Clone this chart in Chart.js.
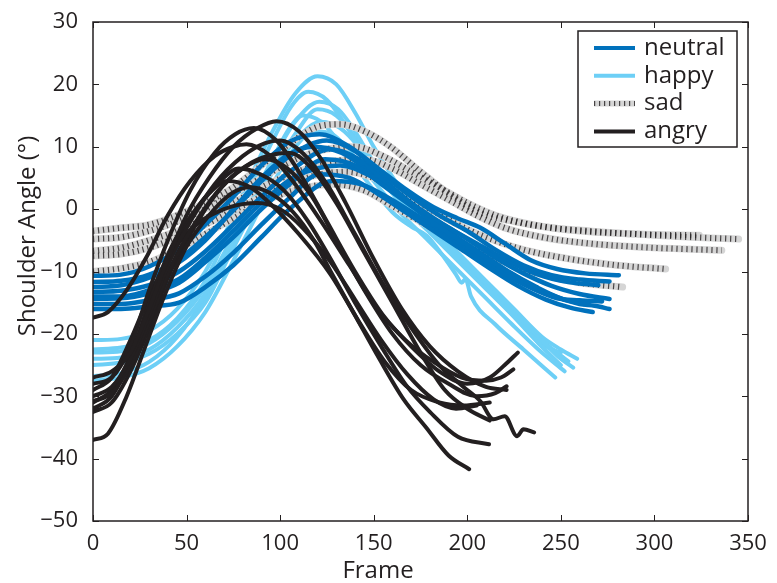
<!DOCTYPE html>
<html>
<head>
<meta charset="utf-8">
<script src="https://cdn.jsdelivr.net/npm/chart.js@4.4.1/dist/chart.umd.min.js"></script>
<style>
html, body { margin: 0; padding: 0; background: #fff; }
#wrap { width: 777px; height: 583px; }
</style>
</head>
<body>
<div id="wrap"><canvas id="myChart"></canvas></div>
<script>
var emotions = ['neutral', 'happy', 'sad', 'angry'];
var colors = { neutral: '#0071bc', happy: '#6dcff6', sad: '#d5d5d5', sadTick: 'rgba(35,31,32,0.8)', angry: '#231f20' };
var xMin = 0, xMax = 350, xStep = 50;
var yMin = -50, yMax = 30, yStep = 10;

// [frame, angle] pairs
var neutral1 = [[0,-10.7],[15,-10.5],[30,-9.2],[46,-6.4],[60,-2.5],[75,2],[90,7],[105,10.8],[121,12],[137,10],[153,6.4],[168,3],[182,0.3],[195,-1.5],[207,-3],[220,-5.5],[234,-8.2],[248,-9.6],[263,-10.3],[281,-10.6]];
var neutral2 = [[0,-11.7],[15,-11.5],[30,-10.5],[46,-8],[60,-4.5],[75,-0.2],[90,4.5],[105,8.5],[125,11],[140,9.3],[155,5.5],[170,2],[185,-1],[200,-3.5],[215,-6.5],[230,-9],[245,-10.6],[260,-11.3],[276,-11.6]];
var neutral3 = [[0,-13.3],[15,-13.1],[30,-12.2],[46,-10],[60,-6.8],[75,-2.5],[90,2],[105,6],[127,9.6],[142,8],[156,4.5],[170,1],[185,-2],[200,-4.8],[215,-7.8],[230,-10.3],[245,-12.3],[260,-13.6],[276,-14.4]];
var neutral4 = [[0,-14.4],[15,-14.3],[30,-13.5],[46,-11.8],[60,-8.5],[75,-4.5],[90,0],[105,4],[124,8],[140,7],[155,3.8],[170,0.5],[185,-2.8],[200,-5.8],[215,-8.8],[230,-11.5],[245,-13.8],[260,-15.2],[268,-15.5],[276,-16]];
var neutral5 = [[0,-15.2],[15,-15.2],[30,-14.6],[46,-13.5],[60,-10.8],[75,-7],[90,-2.5],[105,1.8],[121,5.6],[137,5],[152,2.5],[167,-0.5],[182,-3.5],[197,-6.5],[212,-9.5],[227,-12.3],[242,-14.5],[255,-15.8],[267,-16.5]];
var neutral6 = [[0,-16],[15,-16],[30,-15.6],[46,-15],[60,-12.5],[75,-9],[90,-4.5],[105,0],[128,4.5],[143,4],[158,1.8],[173,-1],[188,-4],[203,-7],[218,-10],[233,-12.5],[248,-14.3],[260,-14.6],[272,-14.8]];
var neutral7 = [[0,-12.5],[15,-12.2],[30,-11],[46,-8.5],[60,-5],[75,0],[90,5],[104,8.7],[118,10],[133,9],[148,6],[163,2.5],[178,-0.8],[193,-3.5],[208,-6],[223,-8.5],[238,-10.5],[254,-11.7],[270,-12.2]];
var neutral8 = [[0,-14],[15,-14],[30,-13],[46,-11.2],[60,-7.8],[75,-3.5],[90,1],[108,5.2],[132,7],[147,5.5],[162,2.5],[177,-0.8],[192,-4],[207,-7],[222,-10],[237,-12.5],[250,-14.3],[262,-15.2]];

var happy1 = [[0,-21],[15,-20.8],[30,-19.5],[45,-16],[60,-10],[72,-3],[84,5],[96,12.5],[108,18.5],[120,21.3],[130,20],[140,15.5],[150,10],[165,3],[180,-2.5],[195,-7],[210,-11.5],[225,-16],[240,-20.5],[250,-22.5],[258.7,-24]];
var happy2 = [[0,-22.5],[15,-22.2],[30,-21],[45,-17.5],[60,-11.5],[72,-4],[84,3.5],[96,11],[106,16.5],[115,18.8],[125,17.5],[135,13.5],[145,8.5],[160,2.5],[175,-1.5],[190,-6],[205,-10.5],[220,-15],[235,-19.5],[248,-23.5],[256.6,-25.4]];
var happy3 = [[0,-24],[15,-23.8],[30,-22.5],[45,-19],[60,-13.5],[72,-6.5],[84,1],[96,8],[108,14],[121,17.2],[131,16],[141,12],[152,6.5],[166,1.5],[181,-3],[196,-7.5],[211,-12],[226,-16.5],[240,-21],[254,-24.4]];
var happy4 = [[0,-25],[15,-24.6],[30,-23.2],[45,-20],[60,-15],[72,-8],[84,-1],[96,6],[108,12],[120,16],[130,15],[140,11.5],[150,7],[164,1],[179,-3.5],[194,-8],[209,-12.5],[224,-17],[238,-21.5],[250,-25]];
var happy5 = [[0,-26.8],[15,-26.3],[30,-24.5],[45,-20.5],[60,-14],[72,-7],[84,0.5],[96,8],[105,13],[112,15],[122,14],[132,10.5],[145,5],[160,-0.5],[170,-2.8],[178.5,-4.3],[187,-7.5],[194,-10.5],[197,-11.8],[199,-11.2],[202,-14],[215,-18.5],[230,-22.5],[247,-27]];
var happy6 = [[0,-27.5],[15,-27],[30,-25.5],[45,-22],[60,-16.5],[72,-10],[84,-3],[96,4],[107,9.5],[118,12.5],[128,12],[138,9],[150,4.5],[164,-0.5],[179,-5],[194,-9.5],[209,-14],[224,-18.5],[238,-22.5],[252,-26]];
var happy7 = [[0,-23],[15,-22.8],[30,-21.5],[45,-18],[60,-12.5],[72,-6],[84,0],[96,6],[108,11],[122,14],[132,13],[142,10],[154,5],[168,0],[183,-4.5],[198,-9],[213,-13.5],[228,-18],[242,-22],[250,-23]];

var sad1 = [[0,-3.5],[15,-3],[30,-2.5],[45,-1],[60,1],[75,3.5],[90,7],[105,10.5],[120,13.2],[132,13.6],[145,12.5],[159,10],[175,6],[190,2.5],[207,-0.6],[225,-2],[245,-3],[261,-3.4],[290,-4],[324,-4.2]];
var sad2 = [[0,-4.8],[15,-4.5],[30,-3.5],[45,-2],[60,0],[75,2.5],[90,5],[105,7.5],[120,9.3],[140,10],[155,8.5],[170,6],[185,3.5],[200,1],[215,-1],[235,-2.5],[260,-3.5],[290,-4],[320,-4.5],[345,-4.8]];
var sad3 = [[0,-6.7],[15,-6.2],[30,-5],[45,-3.5],[60,-1.5],[75,1],[90,3.5],[105,5.5],[125,7.5],[145,8],[160,6.5],[175,4],[190,1.5],[205,-1],[220,-3],[240,-4.5],[265,-5.5],[300,-6.2],[336,-6.6]];
var sad4 = [[0,-7.5],[15,-7.2],[30,-6.2],[45,-4.5],[60,-2.5],[75,-0.2],[90,2],[105,4],[120,5.5],[135,6],[150,5],[165,2.5],[180,0],[195,-2.5],[210,-4.5],[230,-6.5],[255,-8],[280,-9],[306,-9.6]];
var sad5 = [[0,-10],[15,-9.5],[30,-8.5],[45,-6.5],[60,-4],[75,-1.5],[90,1],[105,2.8],[128,4],[145,3],[160,0.5],[175,-2],[190,-4.5],[205,-6.5],[220,-8.5],[240,-10.5],[260,-11.8],[283,-12.5]];

var angry1 = [[0,-27],[10,-26],[20,-23],[30,-16],[40,-8],[50,-1],[62,5],[75,10],[88,13],[98,14.1],[110,12.5],[122,8],[135,1],[150,-8],[165,-16],[180,-22],[195,-26],[210,-28.5],[221,-29]];
var angry2 = [[0,-28],[10,-27],[20,-22],[30,-13],[40,-5],[52,3],[65,9],[76,12],[86,13],[98,11],[110,6],[125,-2],[140,-10],[155,-17],[170,-22],[185,-26],[200,-28],[212,-27],[220,-25],[227,-23]];
var angry3 = [[0,-17.4],[8,-16.5],[18,-13],[28,-8],[40,-1],[52,4.5],[65,8.5],[75,10],[82,10.4],[95,8.5],[108,4],[122,-2],[137,-9],[152,-16],[167,-21],[182,-24.5],[197,-27],[210,-27.5],[218,-27],[224.6,-25.7]];
var angry4 = [[0,-30],[10,-28.5],[20,-24],[30,-17],[40,-9],[52,-2],[65,4],[80,8.5],[92,10.6],[100,11],[112,9],[125,4],[140,-4],[155,-12],[170,-19],[185,-25],[198,-28.5],[207,-30.8],[214,-33.7],[220,-33.2],[226.6,-36.4],[230,-35.3],[235.7,-35.8]];
var angry5 = [[0,-30.8],[10,-29.5],[20,-25],[30,-18],[42,-9],[55,-2],[70,4],[85,7.5],[97,8.8],[105,9],[117,6.5],[130,1],[145,-7],[160,-15],[175,-23],[188,-29],[200,-32],[212,-33.9]];
var angry6 = [[0,-32],[10,-30],[20,-24],[30,-15],[42,-6],[55,0],[68,4.5],[78,6.5],[90,5.5],[102,3],[115,-2],[127,-8],[140,-15],[154,-22],[168,-28.5],[180,-32.5],[195,-36.5],[211.6,-37.7]];
var angry7 = [[0,-37],[8,-36],[18,-30],[28,-22],[38,-14],[50,-6],[62,-1],[74,2.5],[84,3.5],[95,2.5],[107,-0.5],[118,-5],[127,-10],[140,-17],[153,-24],[166,-30.5],[178,-35],[190,-39.5],[201,-41.7]];
var angry8 = [[0,-32.5],[10,-31],[20,-26],[30,-19],[40,-11],[52,-4],[66,2.5],[80,6.5],[92,8],[104,6.5],[117,2],[130,-5],[145,-13],[160,-20],[175,-25],[190,-28],[205,-30],[215,-29.5],[221,-28.4]];
var angry9 = [[0,-29],[10,-27],[20,-21],[30,-14],[42,-7],[55,-2.5],[70,0],[80,0.8],[88,1],[100,0],[112,-3],[127,-8.5],[140,-14.5],[154,-21],[168,-26.5],[182,-30.5],[194,-32],[205,-31.5]];
var angry10 = [[0,-31],[10,-29],[20,-23.5],[30,-15.5],[42,-7],[52,-1.5],[62,2.5],[72,4.5],[84,3.5],[96,0.5],[110,-4],[127,-10.5],[142,-18],[156,-24.5],[170,-29],[185,-31],[198,-31.5],[212,-31]];

var neutralCurves = [neutral1, neutral2, neutral3, neutral4, neutral5, neutral6, neutral7, neutral8];
var happyCurves = [happy1, happy2, happy3, happy4, happy5, happy6, happy7];
var sadCurves = [sad1, sad2, sad3, sad4, sad5];
var angryCurves = [angry1, angry2, angry3, angry4, angry5, angry6, angry7, angry8, angry9, angry10];

function toPoints(arr) {
    return arr.map(function (p) { return { x: p[0], y: p[1] }; });
}

function lineSet(curve, color, width, dash) {
    return {
        data: toPoints(curve),
        borderColor: color,
        borderWidth: width,
        borderDash: dash || [],
        borderCapStyle: dash ? 'butt' : 'round',
        borderJoinStyle: 'round',
        pointRadius: 0,
        fill: false,
        cubicInterpolationMode: 'monotone'
    };
}

// first dataset is drawn on top
var datasets = [];
angryCurves.forEach(function (c) { datasets.push(lineSet(c, colors.angry, 4)); });
neutralCurves.forEach(function (c) { datasets.push(lineSet(c, colors.neutral, 4.5)); });
sadCurves.forEach(function (c) { datasets.push(lineSet(c, colors.sadTick, 6, [1.2, 3.8])); });
sadCurves.forEach(function (c) { datasets.push(lineSet(c, colors.sad, 7)); });
happyCurves.forEach(function (c) { datasets.push(lineSet(c, colors.happy, 4)); });

var font = '"Open Sans", "DejaVu Sans", sans-serif';
var ink = '#231f20';

function minusLabel(v) {
    return v < 0 ? '\u2212' + Math.abs(v) : '' + v;
}

var framePlugin = {
    id: 'frame',
    afterDraw: function (chart) {
        var ctx = chart.ctx, a = chart.chartArea;
        var xs = chart.scales.x, ys = chart.scales.y;
        ctx.save();
        ctx.strokeStyle = ink;
        ctx.lineWidth = 1.5;
        ctx.strokeRect(a.left, a.top, a.right - a.left, a.bottom - a.top);
        ctx.lineWidth = 1;
        ctx.beginPath();
        xs.ticks.forEach(function (t) {
            var px = Math.round(xs.getPixelForValue(t.value)) + 0.5;
            ctx.moveTo(px, a.bottom); ctx.lineTo(px, a.bottom - 6);
            ctx.moveTo(px, a.top); ctx.lineTo(px, a.top + 6);
        });
        ys.ticks.forEach(function (t) {
            var py = Math.round(ys.getPixelForValue(t.value)) + 0.5;
            ctx.moveTo(a.left, py); ctx.lineTo(a.left + 6, py);
            ctx.moveTo(a.right, py); ctx.lineTo(a.right - 6, py);
        });
        ctx.stroke();

        // axis titles
        ctx.fillStyle = ink;
        ctx.font = '24px ' + font;
        ctx.textAlign = 'center';
        ctx.textBaseline = 'middle';
        ctx.fillText('Frame', a.left + 285, a.bottom + 50);
        ctx.save();
        ctx.translate(a.left - 65, a.top + 214);
        ctx.rotate(-Math.PI / 2);
        ctx.fillText('Shoulder Angle (\u00b0)', 0, 0);
        ctx.restore();

        // legend
        var lx = a.right - 170, ly = a.top + 9, lw = 159, lh = 116;
        ctx.fillStyle = '#fff';
        ctx.fillRect(lx, ly, lw, lh);
        ctx.lineWidth = 1.5;
        ctx.strokeStyle = ink;
        ctx.strokeRect(lx, ly, lw, lh);
        ctx.font = '24px ' + font;
        ctx.textAlign = 'left';
        emotions.forEach(function (name, i) {
            var y = ly + 17 + i * 27.8;
            var x0 = lx + 16, x1 = lx + 57;
            ctx.beginPath();
            ctx.moveTo(x0, y); ctx.lineTo(x1, y);
            if (name === 'sad') {
                ctx.setLineDash([]);
                ctx.strokeStyle = colors.sad; ctx.lineWidth = 6;
                ctx.stroke();
                ctx.beginPath();
                ctx.moveTo(x0, y); ctx.lineTo(x1, y);
                ctx.setLineDash([1.2, 3.8]);
                ctx.strokeStyle = colors.sadTick; ctx.lineWidth = 5;
                ctx.stroke();
                ctx.setLineDash([]);
            } else {
                ctx.strokeStyle = colors[name]; ctx.lineWidth = 4;
                ctx.stroke();
            }
            ctx.fillStyle = ink;
            ctx.fillText(name, lx + 66, y);
        });
        ctx.restore();
    }
};

var ctx1 = document.getElementById('myChart').getContext('2d');
var myChart = new Chart(ctx1, {
    type: 'line',
    data: { datasets: datasets },
    options: {
        responsive: true,
        maintainAspectRatio: false,
        animation: false,
        layout: { padding: { top: 22, right: 29, left: 0, bottom: 0 } },
        scales: {
            x: {
                type: 'linear',
                min: xMin,
                max: xMax,
                grid: { display: false },
                border: { display: false },
                ticks: { stepSize: xStep, color: ink, font: { family: font, size: 22 }, padding: 2, maxRotation: 0 },
                afterFit: function (s) { s.height = 62; }
            },
            y: {
                min: yMin,
                max: yMax,
                grid: { display: false },
                border: { display: false },
                ticks: { stepSize: yStep, color: ink, font: { family: font, size: 22 }, padding: 7, callback: minusLabel },
                afterFit: function (s) { s.width = 93; }
            }
        },
        plugins: {
            legend: { display: false },
            tooltip: { enabled: false }
        }
    },
    plugins: [framePlugin]
});
</script>
</body>
</html>
